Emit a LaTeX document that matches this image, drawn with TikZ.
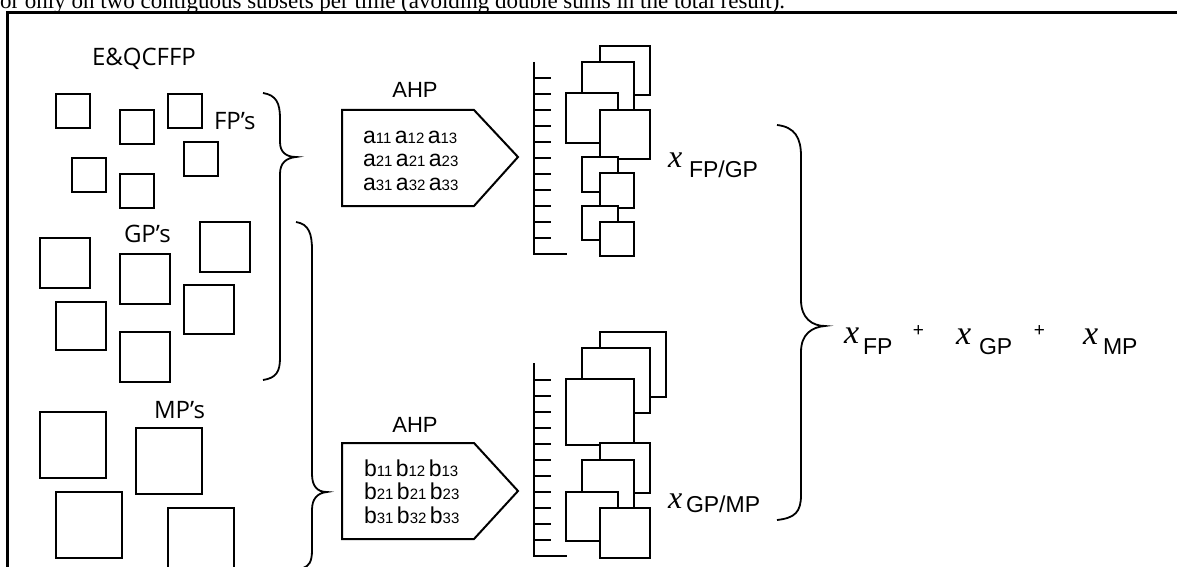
\documentclass[tikz,border=0pt]{standalone}
\usepackage{fontspec}
\setmainfont{Liberation Serif}
\newfontfamily\arialf{Liberation Sans}
\newfontfamily\segoef{Open Sans}
\newcommand\mentry[2]{{\fontsize{23}{26}\selectfont #1}{\fontsize{15}{17}\selectfont #2}}
\newcommand\mgap{\hspace{3.5pt}}
\begin{document}
\begin{tikzpicture}[x=1pt,y=-1pt,line width=2pt,
  lbl/.style={inner sep=0pt,anchor=base west,font=\segoef\fontsize{24}{28}\selectfont},
  ahp/.style={inner sep=0pt,anchor=base,font=\arialf\fontsize{22}{26}\selectfont},
  mrow/.style={inner sep=0pt,anchor=base west,font=\arialf},
  bx/.style={draw,fill=white},
  brace/.style={draw,line width=1.8pt},
  frame/.style={draw,line width=3pt},
  xvar/.style={inner sep=0pt,anchor=base west,font=\itshape\fontsize{32}{36}\selectfont},
  xbig/.style={inner sep=0pt,anchor=base west,font=\itshape\fontsize{34}{38}\selectfont},
  sub/.style={inner sep=0pt,anchor=base west,font=\arialf\fontsize{23}{27}\selectfont},
  plus/.style={inner sep=0pt,anchor=center,font=\arialf\fontsize{19}{22}\selectfont}]
\useasboundingbox (0,0) rectangle (1177,567);
\clip (0,0) rectangle (1177,567);
\fill[white] (0,0) rectangle (1177,567);

% cut-off caption line above the frame
\node[inner sep=0pt,anchor=base west,font=\fontsize{23}{26}\selectfont] (caption) at (-1,9)
  {or only on two contiguous subsets per time (avoiding double sums in the total result).};

% frame
\draw[frame] (7.5,600) -- (7.5,13) -- (1200,13);

% left labels
\node[lbl] (eq) at (91,66) {E\&QCFFP};
\node[lbl] (fp) at (213,130) {FP’s};
\node[lbl] (gp) at (123,242) {GP’s};
\node[lbl] (mp) at (153,418) {MP’s};

% FP squares
\draw (56,94) rectangle (90,128);
\draw (120,110) rectangle (154,144);
\draw (168,94) rectangle (202,128);
\draw (184,142) rectangle (218,176);
\draw (72,158) rectangle (106,192);
\draw (120,174) rectangle (154,208);
% GP squares
\draw (40,238) rectangle (90,288);
\draw (120,254) rectangle (170,304);
\draw (200,222) rectangle (250,272);
\draw (184,285) rectangle (234,334);
\draw (56,302) rectangle (106,350);
\draw (120,332) rectangle (170,382);
% MP squares
\draw (40,412) rectangle (106,478);
\draw (136,428) rectangle (202,494);
\draw (56,492) rectangle (122,558);
\draw (168,508) rectangle (234,574);

% braces
\draw[brace] (263,93) .. controls (276,95) and (280,103) .. (280,118) -- (280,142)
  .. controls (280,152) and (286,157) .. (296,157)
  .. controls (286,158) and (280,163) .. (280,174) -- (280,358)
  .. controls (280,372) and (276,378) .. (263,380);
\draw[brace] (296,222) .. controls (309,224) and (312,234) .. (312,250) -- (312,474)
  .. controls (312,486) and (317,492) .. (327,492)
  .. controls (317,493) and (312,499) .. (312,510) -- (312,550)
  .. controls (312,562) and (309,566) .. (303,568);
\draw[brace] (777,125) .. controls (795,127) and (801,138) .. (801,156) -- (801,300)
  .. controls (801,318) and (812,326) .. (825,326)
  .. controls (812,327) and (801,334) .. (801,352) -- (801,495)
  .. controls (801,512) and (795,518) .. (777,520);

% AHP pentagons
\node[ahp] (ahp1) at (415,98) {AHP};
\draw (342,110) -- (474,110) -- (518,157) -- (474,206) -- (342,206) -- cycle;
\node[mrow] (a1) at (362,143) {\mentry{a}{11}\mgap\mentry{a}{12}\mgap\mentry{a}{13}};
\node[mrow] (a2) at (362,166.5) {\mentry{a}{21}\mgap\mentry{a}{21}\mgap\mentry{a}{23}};
\node[mrow] (a3) at (362,190) {\mentry{a}{31}\mgap\mentry{a}{32}\mgap\mentry{a}{33}};

\node[ahp] (ahp2) at (415,432) {AHP};
\draw (342,443) -- (474,443) -- (518,491) -- (474,539) -- (342,539) -- cycle;
\node[mrow] (b1) at (363,476) {\mentry{b}{11}\mgap\mentry{b}{12}\mgap\mentry{b}{13}};
\node[mrow] (b2) at (363,499.5) {\mentry{b}{21}\mgap\mentry{b}{21}\mgap\mentry{b}{23}};
\node[mrow] (b3) at (363,523) {\mentry{b}{31}\mgap\mentry{b}{32}\mgap\mentry{b}{33}};

% ladders
\draw (534,62) -- (534,253.5) -- (567,253.5);
\foreach \k in {0,...,10} \draw (534,77.7+16*\k) -- (551,77.7+16*\k);
\draw (534,363) -- (534,555.5) -- (567,555.5);
\foreach \k in {0,...,10} \draw (534,379.5+16*\k) -- (551,379.5+16*\k);

% stacked boxes, upper
\draw[bx] (600,46) rectangle (650,95);
\draw[bx] (582,62) rectangle (634,110);
\draw[bx] (566,93) rectangle (618,143);
\draw[bx] (600,110) rectangle (650,159);
\draw[bx] (582,157) rectangle (618,192);
\draw[bx] (600,173) rectangle (634,208);
\draw[bx] (582,206) rectangle (618,240);
\draw[bx] (600,222) rectangle (634,256);
% stacked boxes, lower
\draw[bx] (600,332) rectangle (666,397);
\draw[bx] (582,348) rectangle (650,413);
\draw[bx] (566,379) rectangle (634,445);
\draw[bx] (600,443) rectangle (650,493);
\draw[bx] (582,460) rectangle (634,508);
\draw[bx] (566,492) rectangle (618,541);
\draw[bx] (600,508) rectangle (650,558);

% results
\node[xvar] (x1) at (667,167) {x};
\node[sub] (s1) at (688,177) {FP/GP};
\node[xvar] (x2) at (667,508) {x};
\node[sub] (s2) at (685,512) {GP/MP};

\node[xbig] (xf) at (843,343) {x};
\node[sub] (sf) at (862,354) {FP};
\node[plus] (p1) at (918.5,331) {+};
\node[xbig] (xg) at (955,344) {x};
\node[sub] (sg) at (978,354) {GP};
\node[plus] (p2) at (1039.5,331) {+};
\node[xbig] (xm) at (1082,344) {x};
\node[sub] (sm) at (1102,354) {MP};
\end{tikzpicture}
\end{document}
